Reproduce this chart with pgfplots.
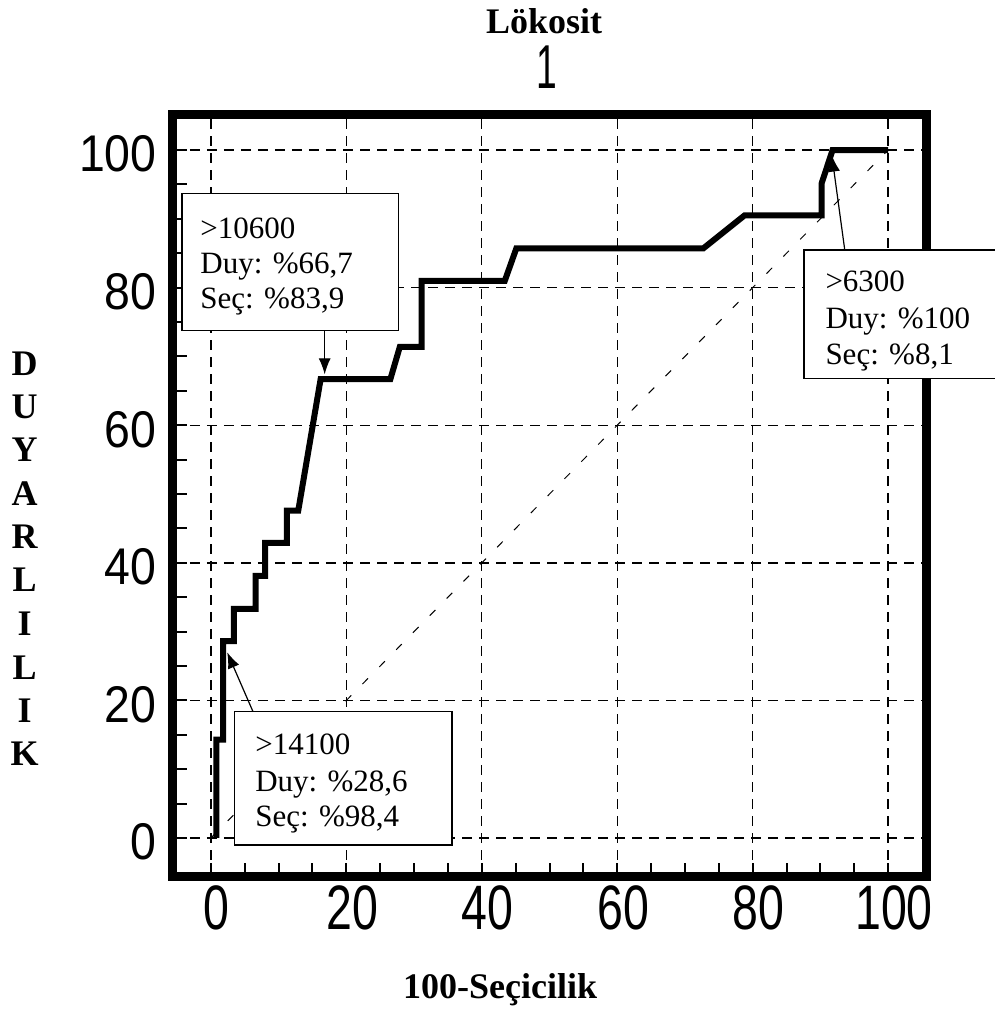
\documentclass[border=0pt]{standalone}
\usepackage{fontspec}
\setmainfont{Liberation Serif}
\setsansfont{Liberation Sans}
\usepackage{graphicx}
\usepackage{pgfplots}
\pgfplotsset{compat=1.18}
\usetikzlibrary{arrows.meta}
\newcommand{\tl}[1]{\scalebox{0.9}[1]{\fontsize{25.8}{26}\selectfont\sffamily #1}}
\newcommand{\xtl}[1]{\scalebox{0.74}[1]{\fontsize{31.4}{32}\selectfont\sffamily #1}}
\newcommand{\bx}{\fontsize{15.5}{17}\selectfont}
\newcommand{\yl}{\fontsize{18}{20}\selectfont\bfseries}
\begin{document}
\begin{tikzpicture}
\useasboundingbox (-86.5pt,-67.5pt) rectangle (411pt,438.5pt);
\begin{axis}[
  scale only axis, width=376.5pt, height=381pt,
  xmin=-5.6, xmax=105.6, ymin=-5.67, ymax=105.1,
  axis line style={line width=4.5pt, line cap=rect},
  xtick={0,20,40,60,80,100}, ytick={0,20,40,60,80,100},
  minor tick num=3,
  xtick pos=bottom, ytick pos=left,
  tick align=inside,
  major tick length=7pt, minor tick length=7pt,
  tick style={black, line width=1pt},
  grid=major,
  major grid style={black, line width=0.7pt, dash pattern=on 5pt off 3.5pt},
  xticklabels={\xtl{0},\xtl{20},\xtl{40},\xtl{60},\xtl{80},\xtl{100}},
  yticklabels={\tl{0},\tl{20},\tl{40},\tl{60},\tl{80},\tl{100}},
  xticklabel style={anchor=center, yshift=-15.5pt, xshift=3pt, inner sep=0pt},
  yticklabel style={anchor=east, inner sep=0pt, xshift=-8pt, yshift=-2pt},
  clip=false,
]
% diagonal reference line
\addplot[black, line width=0.5pt, dash pattern=on 4pt off 8pt] coordinates {(0,0) (100,100)};
% ROC curve
\addplot[black, line width=3pt, line join=miter] coordinates {
(0.8,0) (0.8,14.3) (1.8,14.3) (1.8,28.6) (3.4,28.6) (3.4,33.3)
(6.6,33.3) (6.6,38.1) (8.0,38.1) (8.0,42.9) (11.2,42.9) (11.2,47.6)
(12.9,47.6) (16.2,66.7) (26.5,66.7) (27.9,71.4) (31.1,71.4) (31.1,81.0)
(43.4,81.0) (45.1,85.7) (72.7,85.7) (78.8,90.5) (90.2,90.5) (90.2,95.2)
(91.8,100) (100,100)};
% annotation boxes
\draw[line width=0.75pt, fill=white] (axis cs:-4.3,73.8) rectangle (axis cs:27.7,93.7);
\node[font=\bx, anchor=base west, inner sep=0pt] at (axis cs:-1.6,87.2) {>10600};
\node[font=\bx, anchor=base west, inner sep=0pt] at (axis cs:-1.6,82.1) {Duy: \%66,7};
\node[font=\bx, anchor=base west, inner sep=0pt] at (axis cs:-1.6,77.0) {Seç: \%83,9};
\draw[line width=0.6pt, -{Latex[length=8pt,width=6pt]}] (axis cs:16.8,73.8) -- (axis cs:16.8,67.4);

\draw[line width=0.75pt, fill=white] (axis cs:3.5,-1.0) rectangle (axis cs:35.6,18.4);
\node[font=\bx, anchor=base west, inner sep=0pt] at (axis cs:6.5,12.1) {>14100};
\node[font=\bx, anchor=base west, inner sep=0pt] at (axis cs:6.5,6.8) {Duy: \%28,6};
\node[font=\bx, anchor=base west, inner sep=0pt] at (axis cs:6.5,1.6) {Seç: \%98,4};
\draw[line width=0.6pt, -{Latex[length=8pt,width=6pt]}] (axis cs:6.2,18.4) -- (axis cs:2.4,27.0);

\draw[line width=0.75pt, fill=white] (axis cs:87.6,66.8) rectangle (axis cs:116.5,85.5);
\node[font=\bx, anchor=base west, inner sep=0pt] at (axis cs:90.7,79.4) {>6300};
\node[font=\bx, anchor=base west, inner sep=0pt] at (axis cs:90.7,74.1) {Duy: \%100};
\node[font=\bx, anchor=base west, inner sep=0pt] at (axis cs:90.7,68.8) {Seç: \%8,1};
\draw[line width=0.6pt, -{Latex[length=8pt,width=6pt]}] (axis cs:93.6,85.5) -- (axis cs:91.7,99.2);

% titles and labels
\node[font=\yl, anchor=base] at (axis cs:49.2,117.0) {Lökosit};
\node[anchor=base, inner sep=0pt] at (axis cs:49.6,109.0) {\scalebox{0.6}[1]{\fontsize{31}{32}\selectfont\sffamily 1}};
\node[font=\yl, anchor=base] at (axis cs:42.7,-23.3) {100-Seçicilik};
\node[font=\yl, anchor=base] at (axis cs:-27.5,67.3) {D};
\node[font=\yl, anchor=base] at (axis cs:-27.5,61.0) {U};
\node[font=\yl, anchor=base] at (axis cs:-27.5,54.7) {Y};
\node[font=\yl, anchor=base] at (axis cs:-27.5,48.4) {A};
\node[font=\yl, anchor=base] at (axis cs:-27.5,42.1) {R};
\node[font=\yl, anchor=base] at (axis cs:-27.5,35.8) {L};
\node[font=\yl, anchor=base] at (axis cs:-27.5,29.4) {I};
\node[font=\yl, anchor=base] at (axis cs:-27.5,23.1) {L};
\node[font=\yl, anchor=base] at (axis cs:-27.5,16.8) {I};
\node[font=\yl, anchor=base] at (axis cs:-27.5,10.5) {K};
\end{axis}
\end{tikzpicture}
\end{document}
